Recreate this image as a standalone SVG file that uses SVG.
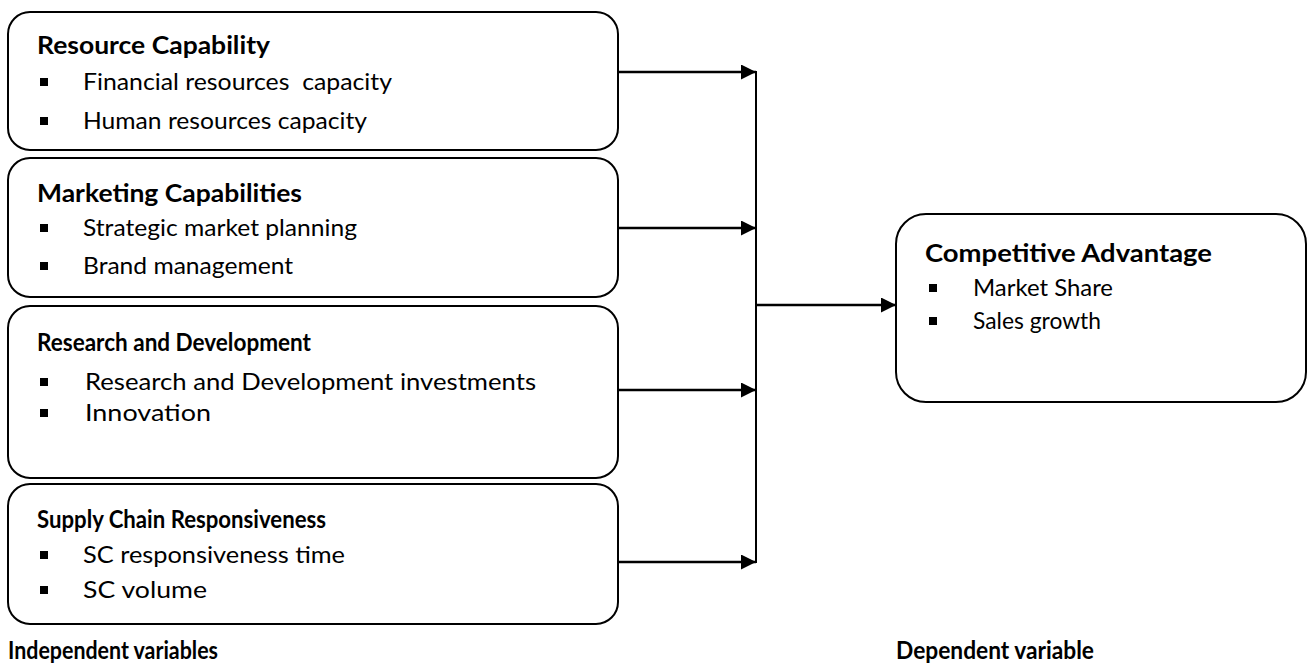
<svg xmlns="http://www.w3.org/2000/svg" width="1309" height="664" viewBox="0 0 1309 664">
  <style>
    .box { fill: #ffffff; stroke: #000000; stroke-width: 2; }
    .title { font-family: Lato, "Liberation Sans", sans-serif; font-weight: bold; font-size: 24px; fill: #000000; }
    .item { font-family: Lato, "Liberation Sans", sans-serif; font-size: 24px; fill: #000000; }
    .bullet { fill: #000000; }
    .wire { stroke: #000000; stroke-width: 2.5; fill: none; }
    .bus { stroke: #000000; stroke-width: 2; fill: none; }
  </style>
  <defs>
    <marker id="arrow" viewBox="0 0 10 10" refX="10" refY="5" markerWidth="6" markerHeight="6" markerUnits="strokeWidth" orient="auto">
      <path d="M0,0 L10,5 L0,10 Z" fill="#000000"/>
    </marker>
    <rect id="sq" width="8" height="8"/>
  </defs>

  <rect width="1309" height="664" fill="#ffffff"/>

  <!-- connectors -->
  <g id="connectors">
    <line class="bus" x1="756" y1="71" x2="756" y2="563"/>
    <line class="wire" x1="618" y1="72" x2="756" y2="72" marker-end="url(#arrow)"/>
    <line class="wire" x1="618" y1="228" x2="756" y2="228" marker-end="url(#arrow)"/>
    <line class="wire" x1="618" y1="390" x2="756" y2="390" marker-end="url(#arrow)"/>
    <line class="wire" x1="618" y1="562" x2="756" y2="562" marker-end="url(#arrow)"/>
    <line class="wire" x1="756" y1="305" x2="896" y2="305" marker-end="url(#arrow)"/>
  </g>

  <!-- independent variable: resource capability -->
  <g id="resource-capability">
    <rect class="box" x="8" y="12" width="610" height="138" rx="22" ry="22"/>
    <text class="title" x="37" y="54" textLength="233" lengthAdjust="spacingAndGlyphs">Resource Capability</text>
    <use href="#sq" class="bullet" x="40" y="78"/>
    <text class="item" x="83" y="90" textLength="309" lengthAdjust="spacingAndGlyphs" xml:space="preserve">Financial resources  capacity</text>
    <use href="#sq" class="bullet" x="40" y="117"/>
    <text class="item" x="83" y="129" textLength="284" lengthAdjust="spacingAndGlyphs">Human resources capacity</text>
  </g>

  <!-- independent variable: marketing capabilities -->
  <g id="marketing-capabilities">
    <rect class="box" x="8" y="158" width="610" height="139" rx="22" ry="22"/>
    <text class="title" x="37" y="202" textLength="265" lengthAdjust="spacingAndGlyphs">Marketing Capabilities</text>
    <use href="#sq" class="bullet" x="40" y="224"/>
    <text class="item" x="83" y="236" textLength="274" lengthAdjust="spacingAndGlyphs">Strategic market planning</text>
    <use href="#sq" class="bullet" x="40" y="262"/>
    <text class="item" x="83" y="274" textLength="210" lengthAdjust="spacingAndGlyphs">Brand management</text>
  </g>

  <!-- independent variable: research and development -->
  <g id="research-development">
    <rect class="box" x="8" y="306" width="610" height="172" rx="22" ry="22"/>
    <text class="title" x="37" y="351" textLength="274" lengthAdjust="spacingAndGlyphs">Research and Development</text>
    <use href="#sq" class="bullet" x="40" y="378"/>
    <text class="item" x="85" y="390" textLength="451" lengthAdjust="spacingAndGlyphs">Research and Development investments</text>
    <use href="#sq" class="bullet" x="40" y="409"/>
    <text class="item" x="85" y="421" textLength="126" lengthAdjust="spacingAndGlyphs">Innovation</text>
  </g>

  <!-- independent variable: supply chain responsiveness -->
  <g id="supply-chain">
    <rect class="box" x="8" y="484" width="610" height="140" rx="22" ry="22"/>
    <text class="title" x="37" y="528" textLength="289" lengthAdjust="spacingAndGlyphs">Supply Chain Responsiveness</text>
    <use href="#sq" class="bullet" x="40" y="551"/>
    <text class="item" x="83" y="563" textLength="262" lengthAdjust="spacingAndGlyphs">SC responsiveness time</text>
    <use href="#sq" class="bullet" x="40" y="586"/>
    <text class="item" x="83" y="598" textLength="124" lengthAdjust="spacingAndGlyphs">SC volume</text>
  </g>

  <!-- dependent variable: competitive advantage -->
  <g id="competitive-advantage">
    <rect class="box" x="896" y="214" width="410" height="188" rx="30" ry="30"/>
    <text class="title" x="925" y="262" textLength="287" lengthAdjust="spacingAndGlyphs">Competitive Advantage</text>
    <use href="#sq" class="bullet" x="929" y="284"/>
    <text class="item" x="973" y="296" textLength="140" lengthAdjust="spacingAndGlyphs">Market Share</text>
    <use href="#sq" class="bullet" x="929" y="317"/>
    <text class="item" x="973" y="329" textLength="128" lengthAdjust="spacingAndGlyphs">Sales growth</text>
  </g>

  <!-- column captions -->
  <g id="captions">
    <text class="title" x="8" y="659" textLength="210" lengthAdjust="spacingAndGlyphs">Independent variables</text>
    <text class="title" x="896" y="659" textLength="198" lengthAdjust="spacingAndGlyphs">Dependent variable</text>
  </g>
</svg>
